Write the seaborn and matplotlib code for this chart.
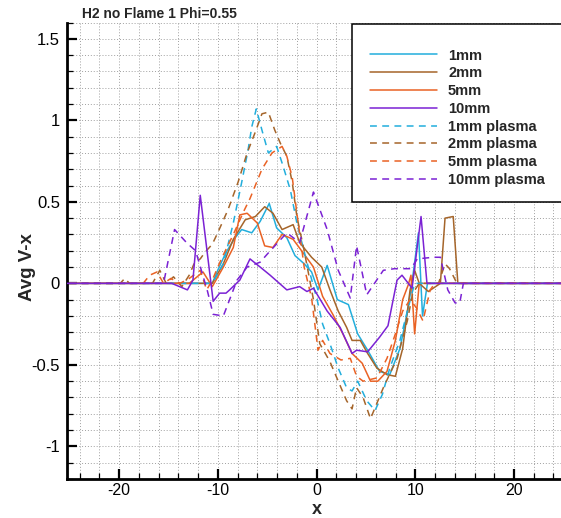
import matplotlib
matplotlib.use("Agg")
import matplotlib.pyplot as plt
import pandas as pd
import seaborn as sns
from matplotlib.patches import Rectangle
from matplotlib.ticker import MultipleLocator, FixedLocator, FixedFormatter

sns.set_theme(style="white")
plt.rcParams["font.family"] = ["Liberation Sans", "DejaVu Sans"]
plt.rcParams["axes.unicode_minus"] = False

# ---- averaged axial velocity profiles ----
x_1mm = [-30, -14.12, -10.57, -10.02, -9.18, -8.25, -7.59, -6.57, -5.72, -4.80,
         -4.05, -3.02, -2.19, -1.26, -0.51, 0.14, 1.07, 2.10, 3.22, 4.16,
         5.17, 6.38, 7.41, 8.44, 9.28, 9.74, 10.32, 10.73, 11.23, 30]
v_1mm = [0, 0, 0, 0.08, 0.19, 0.28, 0.33, 0.31, 0.38, 0.49,
         0.34, 0.28, 0.17, 0.12, 0.07, -0.04, 0.11, -0.10, -0.13, -0.31,
         -0.41, -0.54, -0.56, -0.40, -0.15, 0.04, 0.31, -0.20, 0, 0]

x_2mm = [-30, -10.57, -9.45, -8.44, -7.23, -6.20, -5.26, -4.42, -3.50, -2.38,
         -1.72, -0.51, 0.52, 1.35, 2.19, 3.04, 3.59, 4.43, 5.17, 6.11,
         7.13, 7.98, 8.72, 9.47, 9.93, 10.40, 11.32, 12.54, 13.01, 13.84,
         14.31, 30]
v_2mm = [0, 0, 0.12, 0.27, 0.39, 0.41, 0.47, 0.43, 0.33, 0.36,
         0.25, 0.16, 0.10, -0.04, -0.17, -0.27, -0.35, -0.35, -0.43, -0.52,
         -0.56, -0.57, -0.40, -0.04, 0.08, 0, -0.05, 0, 0.40, 0.41,
         0, 0]

x_5mm = [-30, -12.91, -11.51, -10.57, -9.45, -8.44, -7.78, -7.04, -6.01, -5.26,
         -4.42, -3.50, -2.38, -1.16, -0.32, 0.61, 1.64, 2.66, 3.59, 4.62,
         5.46, 6.20, 7.13, 7.98, 8.72, 9.28, 9.56, 9.93, 10.40, 30]
v_5mm = [0, 0, 0.07, -0.02, 0.10, 0.22, 0.42, 0.43, 0.37, 0.23,
         0.22, 0.30, 0.27, 0.17, 0.10, -0.08, -0.19, -0.31, -0.43, -0.49,
         -0.60, -0.60, -0.54, -0.35, -0.10, -0.01, 0.05, -0.31, 0, 0]

x_10mm = [-30, -14.68, -13.09, -12.53, -11.79, -10.48, -9.83, -9.18, -8.81, -7.78,
          -6.75, -5.72, -4.71, -3.02, -1.72, -0.98, -0.32, 1.07, 2.38, 3.59,
          4.05, 5.17, 6.38, 7.23, 8.15, 8.65, 9.67, 10.58, 11.18, 30]
v_10mm = [0, 0, -0.04, 0.02, 0.54, -0.11, -0.06, -0.06, -0.04, 0.02,
          0.15, 0.10, 0.05, -0.04, -0.02, -0.05, -0.03, -0.17, -0.27, -0.43,
          -0.41, -0.42, -0.33, -0.26, 0.02, 0.05, -0.03, 0.41, 0, 0]

x_1mm_pl = [-30, -10.57, -9.45, -8.44, -7.59, -6.94, -6.57, -6.11, -5.54, -4.89,
            -4.05, -3.40, -2.65, -2.00, -1.07, 0.05, 0.61, 1.35, 2.19, 3.04,
            3.59, 4.16, 5.08, 5.92, 6.67, 7.41, 8.44, 9.28, 9.93, 30]
v_1mm_pl = [0, 0, 0.12, 0.37, 0.62, 0.82, 0.96, 1.07, 0.94, 0.80,
            0.84, 0.72, 0.57, 0.37, 0.15, -0.10, -0.25, -0.37, -0.52, -0.64,
            -0.66, -0.60, -0.72, -0.78, -0.68, -0.52, -0.35, -0.15, 0, 0]

x_2mm_pl = [-30, -19.90, -19.44, -18.96, -16.63, -15.89, -15.24, -14.50, -13.65, -12.91,
            -12.35, -11.79, -11.32, -10.57, -10.02, -8.99, -7.96, -7.04, -6.20, -5.54,
            -4.89, -4.24, -3.68, -3.02, -2.47, -2.00, -1.26, -0.32, 0.32, 1.35,
            2.19, 3.04, 3.59, 4.05, 4.71, 5.46, 6.76, 8.16, 9.19, 9.74,
            10.40, 12.35, 13.01, 13.47, 14.22, 30]
v_2mm_pl = [0, 0, 0.03, 0, 0, 0.08, 0, 0.04, -0.02, 0.05,
            0.13, 0.15, 0.19, 0.24, 0.31, 0.45, 0.62, 0.80, 0.93, 1.04,
            1.05, 0.94, 0.86, 0.78, 0.62, 0.41, 0.20, -0.10, -0.37, -0.48,
            -0.60, -0.72, -0.77, -0.64, -0.70, -0.83, -0.64, -0.46, -0.23, -0.06,
            0, 0, 0.12, 0.09, 0, 0]

x_5mm_pl = [-30, -17.57, -16.91, -16.17, -15.51, -14.77, -13.84, -12.91, -11.79, -11.14,
            -10.57, -9.65, -8.44, -7.32, -6.75, -5.54, -4.52, -3.50, -3.02, -2.47,
            -1.91, -1.26, -0.51, -0.14, 0.14, 0.61, 1.35, 2.47, 3.41, 4.05,
            4.71, 6.11, 7.13, 7.98, 8.72, 9.47, 10.11, 10.77, 11.51, 11.98, 30]
v_5mm_pl = [0, 0, 0.05, 0.07, 0.0, 0.03, 0.0, 0.03, 0.08, -0.04,
            0.02, 0.15, 0.30, 0.45, 0.52, 0.70, 0.80, 0.84, 0.78, 0.65,
            0.39, 0.10, -0.09, -0.27, -0.41, -0.35, -0.43, -0.47, -0.46, -0.57,
            -0.60, -0.58, -0.46, -0.31, -0.17, -0.10, -0.15, -0.23, -0.04, 0, 0]

x_10mm_pl = [-30, -15.51, -14.39, -13.18, -12.26, -11.05, -10.48, -9.45, -8.06, -7.04,
             -5.72, -4.99, -3.02, -1.72, -0.32, 1.07, 2.19, 3.41, 4.05, 5.08,
             6.76, 7.88, 9.56, 10.20, 11.80, 12.54, 13.29, 14.03, 14.50, 14.87, 30]
v_10mm_pl = [0, 0, 0.33, 0.25, 0.20, -0.05, -0.19, -0.20, 0.02, 0.10,
             0.13, 0.18, 0.31, 0.25, 0.56, 0.33, 0.08, -0.09, 0.23, -0.07,
             0.08, 0.09, 0.09, 0.15, 0.16, 0.16, -0.04, -0.12, -0.12, 0, 0]

labels = ["1mm", "2mm", "5mm", "10mm",
          "1mm plasma", "2mm plasma", "5mm plasma", "10mm plasma"]
xs = [x_1mm, x_2mm, x_5mm, x_10mm, x_1mm_pl, x_2mm_pl, x_5mm_pl, x_10mm_pl]
vs = [v_1mm, v_2mm, v_5mm, v_10mm, v_1mm_pl, v_2mm_pl, v_5mm_pl, v_10mm_pl]
colors = ["#22AEDC", "#A5652A", "#EA6224", "#7B22D4"] * 2
dashed = [False] * 4 + [True] * 4

x_ticks = [-20, -10, 0, 10, 20]
x_tick_labels = ["-20", "-10", "0", "10", "20"]
y_ticks = [-1, -0.5, 0, 0.5, 1, 1.5]
y_tick_labels = ["-1", "-0.5", "0", "0.5", "1", "1.5"]

W, H = 561, 518
fig = plt.figure(figsize=(W / 100, H / 100), dpi=100)
left_px, bottom_px, top_px = 67.0, 479.0, 22.5
ax = fig.add_axes([left_px / W, (H - bottom_px) / H,
                   1 - left_px / W, (bottom_px - top_px) / H])

frames = []
for lab, xv, yv in zip(labels, xs, vs):
    frames.append(pd.DataFrame({"x": xv, "v": yv, "series": lab}))
data = pd.concat(frames, ignore_index=True)

for lab, col, dsh in zip(labels, colors, dashed):
    sub = data[data["series"] == lab]
    ls = (0, (4.5, 3.5)) if dsh else "-"
    z = 3 if lab == "10mm" else 2
    sns.lineplot(data=sub, x="x", y="v", ax=ax, color=col, lw=1.1,
                 linestyle=ls, label=lab, sort=False, estimator=None,
                 zorder=z, legend=False)

ax.set_xlim(-25.29, 24.76)
ax.set_ylim(-1.2, 1.6)
ax.set_xlabel("")
ax.set_ylabel("")

ax.xaxis.set_major_locator(FixedLocator(x_ticks))
ax.xaxis.set_major_formatter(FixedFormatter(x_tick_labels))
ax.yaxis.set_major_locator(FixedLocator(y_ticks))
ax.yaxis.set_major_formatter(FixedFormatter(y_tick_labels))
ax.xaxis.set_minor_locator(MultipleLocator(2))
ax.yaxis.set_minor_locator(MultipleLocator(0.1))

ax.grid(which="both", linestyle=(0, (1, 2)), color="#a0a0a0", lw=0.7)
ax.set_axisbelow(True)

for side in ["top", "right"]:
    ax.spines[side].set_visible(False)
for side in ["left", "bottom"]:
    ax.spines[side].set_visible(True)
    ax.spines[side].set_color("black")
    ax.spines[side].set_linewidth(2.0)

ax.tick_params(which="major", direction="in", length=7, width=1.6,
               color="black", labelsize=12, pad=5, labelcolor="black",
               bottom=True, left=True, top=False, right=False)
ax.tick_params(axis="x", which="major", pad=3, labelsize=11.5)
ax.tick_params(which="minor", direction="in", length=4, width=0.9,
               color="black", bottom=True, left=True, top=False, right=False)

# legend box
box = Rectangle((352 / W, 1 - 202 / H), (580 - 352) / W, (202 - 24) / H,
                transform=fig.transFigure, facecolor="white",
                edgecolor="black", lw=1.1, zorder=4.8, clip_on=False)
ax.add_artist(box)

handles, hlabels = ax.get_legend_handles_labels()
leg = ax.legend(handles, hlabels, loc="upper left",
                bbox_to_anchor=(370 / W, 1 - 48.5 / H),
                bbox_transform=fig.transFigure, frameon=False,
                prop=dict(weight="bold", size=10.5),
                handlelength=4.6, handletextpad=0.75, labelspacing=0.26,
                borderpad=0, borderaxespad=0)
leg.set_zorder(5)

fig.text(82 / W, 1 - 14 / H, "H2 no Flame 1 Phi=0.55", ha="left",
         va="center", fontsize=10, fontweight="bold")
fig.text(27 / W, 1 - 267 / H, "Avg V-x", rotation=90, ha="center",
         va="center", fontsize=13.5, fontweight="bold")
fig.text(316.6 / W, 1 - 509 / H, "x", ha="center", va="center",
         fontsize=13, fontweight="bold")

fig.savefig("out.png", dpi=100)
